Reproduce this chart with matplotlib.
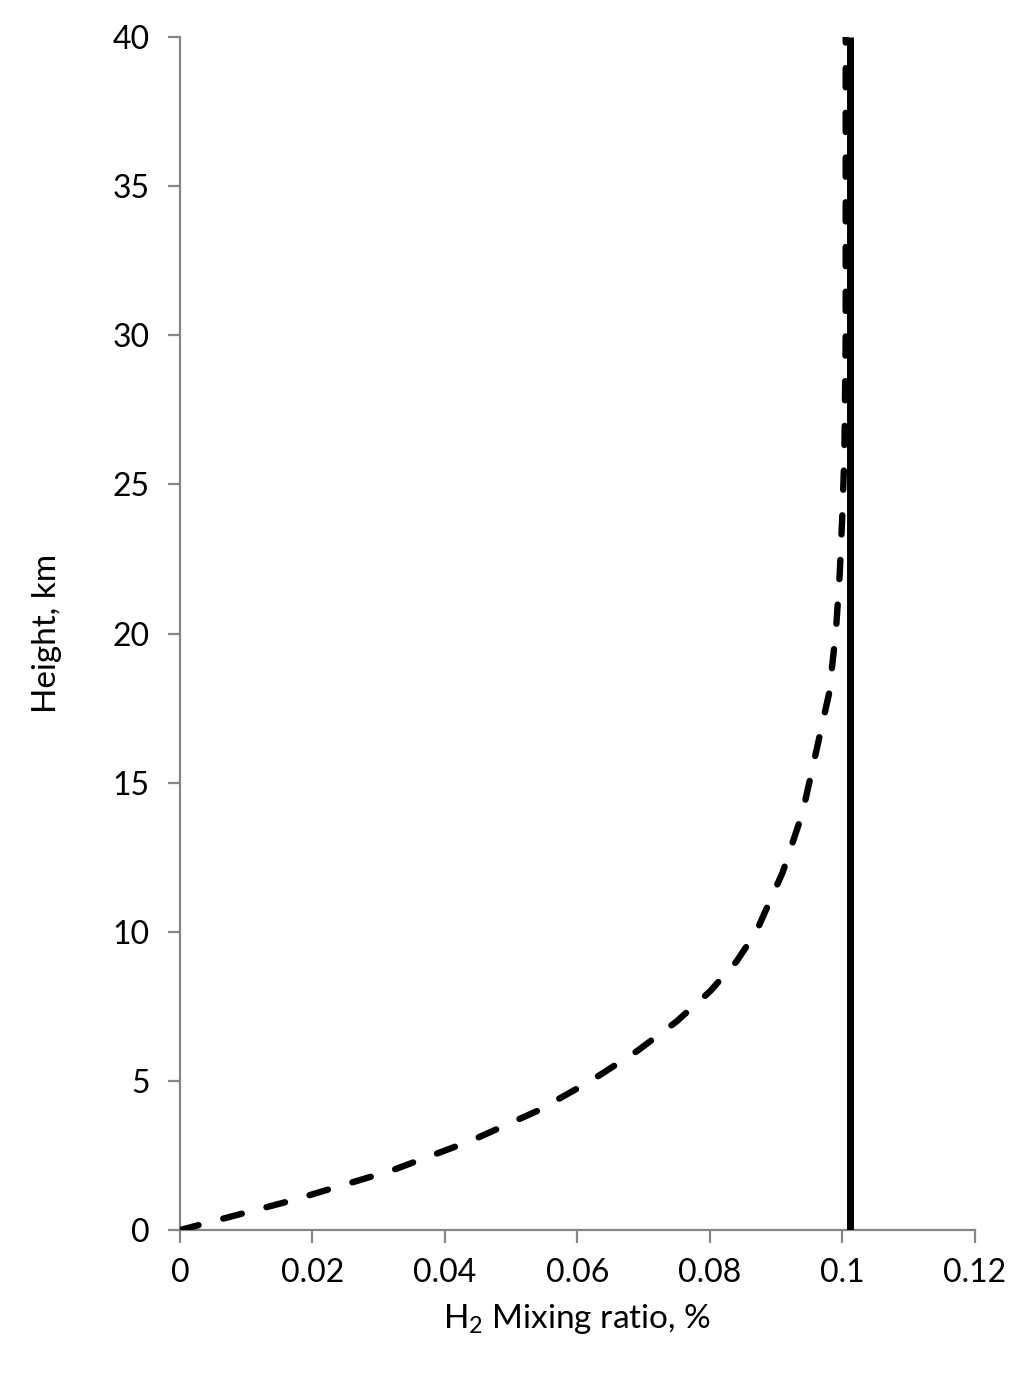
import matplotlib
matplotlib.use("Agg")
import matplotlib.pyplot as plt
from matplotlib.ticker import FuncFormatter

plt.rcParams['font.family'] = ['Lato', 'DejaVu Sans']
plt.rcParams['mathtext.default'] = 'regular'

# Dashed profile: height (km) vs H2 mixing ratio (%)
height_km = [0, 1, 2, 3, 4, 5, 6, 7, 8, 9, 10, 12, 14, 16, 18, 20, 22, 24, 26, 28, 30, 35, 40]
mixing_dashed = [0, 0.017, 0.032, 0.044, 0.054, 0.062, 0.069, 0.075, 0.080, 0.084, 0.087,
                 0.091, 0.094, 0.096, 0.098, 0.099, 0.0996, 0.1000, 0.1003, 0.1004, 0.1005, 0.1005, 0.1005]
# Solid constant profile
height_solid = [0, 40]
mixing_solid = [0.1012, 0.1012]

x_ticks = [0, 0.02, 0.04, 0.06, 0.08, 0.1, 0.12]
y_ticks = [0, 5, 10, 15, 20, 25, 30, 35, 40]

fig = plt.figure(figsize=(10.24, 13.79), dpi=100)
ax = fig.add_axes([0.1758, 0.108, 0.7762, 0.8652])

ax.plot(mixing_solid, height_solid, color='black', lw=5, solid_capstyle='butt', zorder=3)
ax.plot(mixing_dashed, height_km, color='black', lw=4.6, linestyle=(0, (3.0, 4.0)),
        dash_capstyle='round', zorder=4)

ax.set_xlim(0, 0.12)
ax.set_ylim(0, 40)
ax.set_xticks(x_ticks)
ax.set_yticks(y_ticks)
ax.xaxis.set_major_formatter(FuncFormatter(lambda v, p: '%g' % round(v, 4)))

for side in ['top', 'right']:
    ax.spines[side].set_visible(False)
for side in ['left', 'bottom']:
    ax.spines[side].set_color('#868686')
    ax.spines[side].set_linewidth(1.6)

ax.tick_params(axis='both', direction='out', length=9, width=1.6, color='#868686',
               labelsize=23, labelcolor='black')
ax.tick_params(axis='x', pad=11)
ax.tick_params(axis='y', pad=13)

ax.set_xlabel('H$_2$ Mixing ratio, %', fontsize=24, labelpad=10)
ax.set_ylabel('Height, km', fontsize=24, labelpad=36)

fig.savefig('out.png', dpi=100, facecolor='white')
